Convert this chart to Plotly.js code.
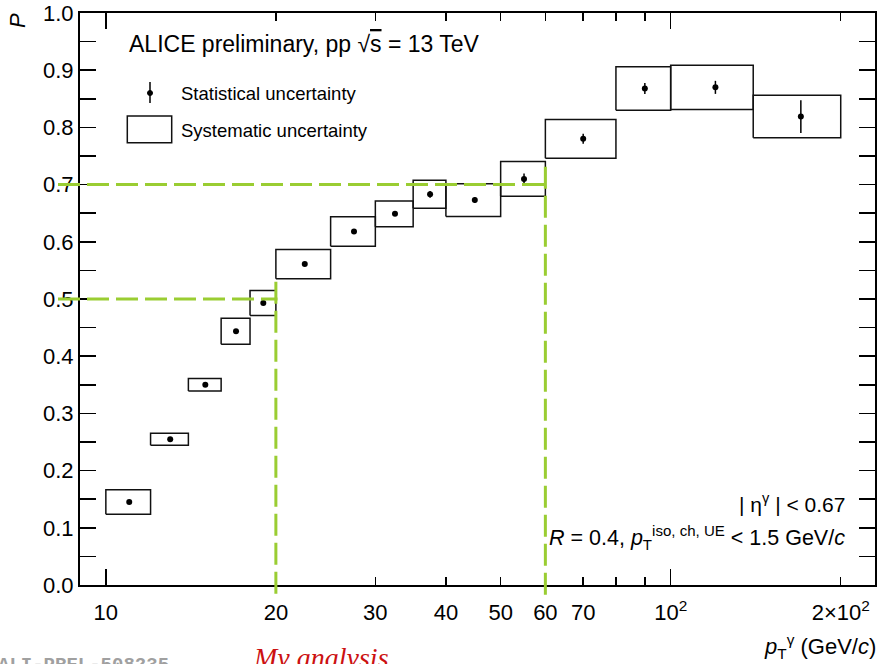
<!DOCTYPE html>
<html>
<head>
<meta charset="utf-8">
<script src="https://cdn.plot.ly/plotly-3.0.1.min.js"></script>
<style>html,body{margin:0;padding:0;background:#fff;}</style>
</head>
<body>
<div id="chart" style="width:879px;height:664px;"></div>
<script>
// ---- data ----
const binLow  = [10, 12, 14, 16, 18, 20, 25, 30, 35, 40, 50, 60, 80, 100, 140];
const binHigh = [12, 14, 16, 18, 20, 25, 30, 35, 40, 50, 60, 80, 100, 140, 200];
const pT      = [11, 13, 15, 17, 19, 22.5, 27.5, 32.5, 37.5, 45, 55, 70, 90, 120, 170];
const purity  = [0.145, 0.255, 0.350, 0.4435, 0.493, 0.561, 0.618, 0.649, 0.683, 0.673, 0.710, 0.780, 0.868, 0.870, 0.819];
const statErr = [0.002, 0.002, 0.002, 0.002, 0.003, 0.003, 0.003, 0.004, 0.006, 0.005, 0.0093, 0.0087, 0.0096, 0.0114, 0.0286];
const sysErr  = [0.0215, 0.0105, 0.011, 0.0227, 0.022, 0.0257, 0.0257, 0.0225, 0.0245, 0.0286, 0.0303, 0.034, 0.038, 0.0385, 0.0373];

const xTickVals = [10, 20, 30, 40, 50, 60, 70, 80, 90, 100, 200];
const xTickText = ['10', '20', '30', '40', '50', '60', '70', ' ', ' ', '10<sup>2</sup>', '2×10<sup>2</sup>'];
const xMajorVals = [10, 100];
const xRangeVals = [9, 230];

// guide lines (green dashed): [pT cut, purity level, top of vertical]
const guidePt    = [20, 60];
const guideLevel = [0.5, 0.7];
const guideTop   = [0.53, 0.731];

// ---- helpers ----
const FONT = 'Liberation Sans, Arial, Helvetica, sans-serif';
const W = 879, H = 664, ML = 80, MR = 4, MT = 13, MB = 79;
const PW = W - ML - MR, PH = H - MT - MB;
const lx0 = Math.log10(xRangeVals[0]), lx1 = Math.log10(xRangeVals[1]);
function paperX(v) { return (Math.log10(v) - lx0) / (lx1 - lx0); }
function px2x(p) { return (p - ML) / PW; }
function px2y(p) { return (H - MB - p) / PH; }

// systematic boxes
const boxX = [], boxY = [];
for (let i = 0; i < pT.length; i++) {
  const lo = purity[i] - sysErr[i], hi = purity[i] + sysErr[i];
  boxX.push(binLow[i], binHigh[i], binHigh[i], binLow[i], binLow[i], null);
  boxY.push(lo, lo, hi, hi, lo, null);
}

const traces = [
  { x: boxX, y: boxY, mode: 'lines', line: { color: '#111', width: 1.5 },
    showlegend: false, hoverinfo: 'skip', connectgaps: false },
  { x: pT, y: purity, mode: 'markers', marker: { color: '#000', size: 6 },
    error_y: { type: 'data', array: statErr, visible: true, color: '#000', thickness: 1.5, width: 0 },
    showlegend: false },
  { x: [10], y: [null], xaxis: 'x2', yaxis: 'y', mode: 'markers', showlegend: false, hoverinfo: 'skip' }
];

const shapes = [];
const green = '#9acd32';
for (let i = 0; i < guidePt.length; i++) {
  shapes.push({ type: 'line', xref: 'paper', yref: 'paper',
    x0: px2x(58), x1: paperX(guidePt[i]) + 0.002, y0: guideLevel[i], y1: guideLevel[i],
    line: { color: green, width: 3, dash: '22px,7px' } });
  shapes.push({ type: 'line', xref: 'paper', yref: 'paper',
    x0: paperX(guidePt[i]), x1: paperX(guidePt[i]), y0: guideTop[i], y1: px2y(598),
    line: { color: green, width: 3, dash: '22px,7px' } });
}
// legend symbols
shapes.push({ type: 'rect', xref: 'paper', yref: 'paper',
  x0: px2x(127.3), x1: px2x(171.7), y0: px2y(142.7), y1: px2y(116),
  line: { color: '#111', width: 1.5 }, fillcolor: 'rgba(0,0,0,0)' });
shapes.push({ type: 'line', xref: 'paper', yref: 'paper',
  x0: px2x(150), x1: px2x(150), y0: px2y(103), y1: px2y(82),
  line: { color: '#000', width: 1.5 } });
shapes.push({ type: 'circle', xref: 'paper', yref: 'paper',
  x0: px2x(147.5), x1: px2x(152.5), y0: px2y(95.5), y1: px2y(90.5),
  line: { color: '#000', width: 1 }, fillcolor: '#000' });

const annotations = [
  { text: 'ALICE preliminary, pp √<span style="text-decoration:overline">s</span> = 13 TeV', xref: 'paper', yref: 'paper',
    x: px2x(127), y: px2y(44), xanchor: 'left', yanchor: 'middle', showarrow: false,
    font: { family: FONT, size: 23, color: '#000' } },
  { text: 'Statistical uncertainty', xref: 'paper', yref: 'paper',
    x: px2x(179), y: px2y(94), xanchor: 'left', yanchor: 'middle', showarrow: false,
    font: { family: FONT, size: 18.5, color: '#000' } },
  { text: 'Systematic uncertainty', xref: 'paper', yref: 'paper',
    x: px2x(179), y: px2y(130), xanchor: 'left', yanchor: 'middle', showarrow: false,
    font: { family: FONT, size: 18.5, color: '#000' } },
  { text: '| η<sup>γ</sup> | &lt; 0.67', xref: 'paper', yref: 'paper',
    x: px2x(847), y: px2y(503), xanchor: 'right', yanchor: 'middle', showarrow: false,
    font: { family: FONT, size: 21, color: '#000' } },
  { text: '<i>R</i> = 0.4, <i>p</i><sub>T</sub><sup>iso, ch, UE</sup> &lt; 1.5 GeV/<i>c</i>', xref: 'paper', yref: 'paper',
    x: px2x(847), y: px2y(537), xanchor: 'right', yanchor: 'middle', showarrow: false,
    font: { family: FONT, size: 21.5, color: '#000' } },
  { text: '<i>p</i><sub>T</sub><sup>γ</sup> (GeV/<i>c</i>)', xref: 'paper', yref: 'paper',
    x: px2x(878), y: px2y(646), xanchor: 'right', yanchor: 'middle', showarrow: false,
    font: { family: FONT, size: 22, color: '#000' } },
  { text: '<i>P</i>', xref: 'paper', yref: 'paper', textangle: -90,
    x: px2x(18), y: px2y(21), xanchor: 'center', yanchor: 'middle', showarrow: false,
    font: { family: FONT, size: 22, color: '#000' } },
  { text: '<b>ALI-PREL-508235</b>', xref: 'paper', yref: 'paper',
    x: px2x(-4), y: px2y(652), xanchor: 'left', yanchor: 'top', showarrow: false,
    font: { family: 'Liberation Mono, Courier New, monospace', size: 19, color: '#a0a0a0' } },
  { text: '<i>My analysis</i>', xref: 'paper', yref: 'paper',
    x: px2x(251), y: px2y(640), xanchor: 'left', yanchor: 'top', showarrow: false,
    font: { family: 'Liberation Serif, Times New Roman, serif', size: 28, color: '#cc1111' } }
];

const axCommon = { showgrid: false, zeroline: false, tickcolor: '#000', tickwidth: 1.5 };

const layout = {
  width: W, height: H,
  margin: { l: ML, r: MR, t: MT, b: MB, pad: 0 },
  paper_bgcolor: '#fff', plot_bgcolor: '#fff',
  showlegend: false,
  font: { family: FONT, color: '#000' },
  xaxis: Object.assign({}, axCommon, {
    type: 'log', range: [lx0, lx1],
    tickmode: 'array', tickvals: xTickVals, ticktext: xTickText,
    ticks: 'inside', ticklen: 8, showline: true, linecolor: '#000', linewidth: 2,
    ticklabelstandoff: 7,
    mirror: 'allticks', tickfont: { family: FONT, size: 22, color: '#000' }
  }),
  xaxis2: Object.assign({}, axCommon, {
    type: 'log', range: [lx0, lx1], overlaying: 'x', anchor: 'y', side: 'bottom',
    tickmode: 'array', tickvals: xMajorVals, ticks: 'inside', ticklen: 16,
    showticklabels: false, showline: false, mirror: 'allticks'
  }),
  yaxis: Object.assign({}, axCommon, {
    range: [0, 1], tick0: 0, dtick: 0.1, tickformat: '.1f',
    ticks: 'inside', ticklen: 16, showline: true, linecolor: '#000', linewidth: 2,
    mirror: 'allticks', tickfont: { family: FONT, size: 22, color: '#000' },
    minor: { tick0: 0, dtick: 0.05, ticks: 'inside', ticklen: 8, tickwidth: 1.5, tickcolor: '#000' }
  }),
  shapes: shapes,
  annotations: annotations
};

Plotly.newPlot('chart', traces, layout, { displayModeBar: false, staticPlot: true });
</script>
</body>
</html>
